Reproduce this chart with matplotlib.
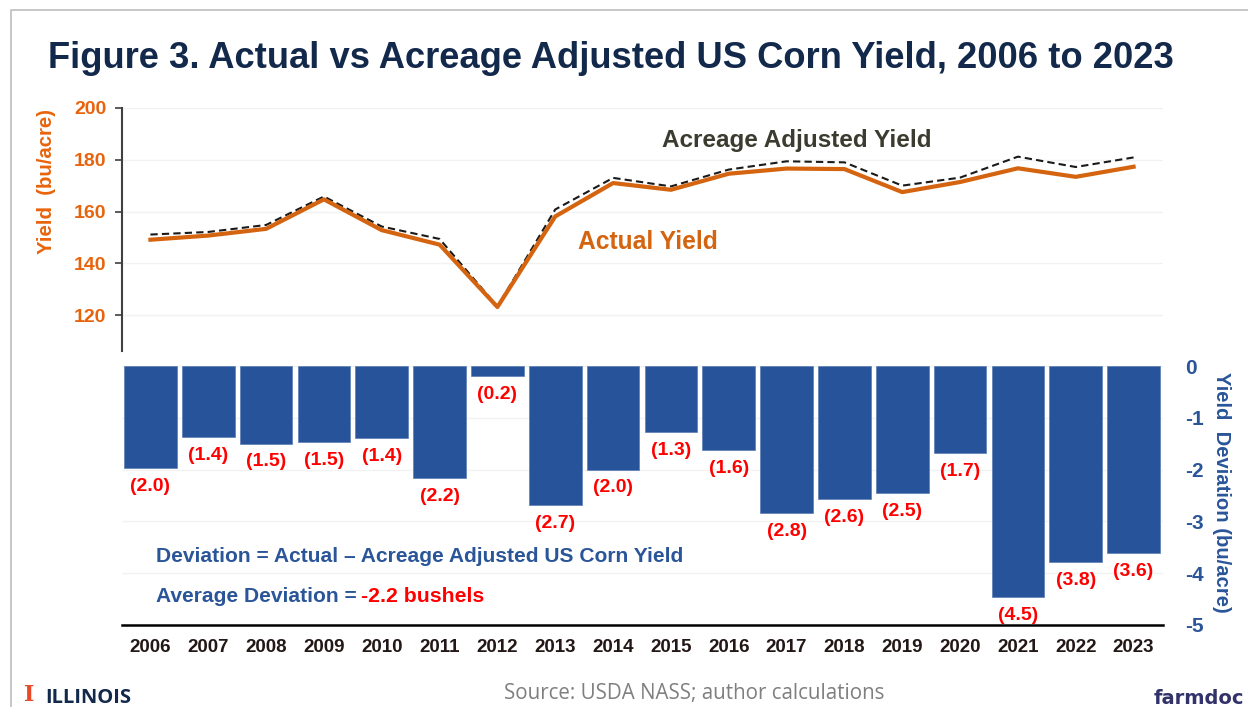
import numpy as np
import matplotlib
matplotlib.use('Agg')
import matplotlib.pyplot as plt
from matplotlib.lines import Line2D

plt.rcParams['font.family'] = ['Liberation Sans', 'DejaVu Sans']
plt.rcParams['axes.unicode_minus'] = False

years = ['2006', '2007', '2008', '2009', '2010', '2011', '2012', '2013', '2014',
         '2015', '2016', '2017', '2018', '2019', '2020', '2021', '2022', '2023']
actual = [149.1, 150.7, 153.3, 164.7, 152.8, 147.2, 123.1, 158.1, 171.0,
          168.4, 174.6, 176.6, 176.4, 167.5, 171.4, 176.7, 173.4, 177.3]
adjusted = [151.1, 152.1, 154.8, 165.8, 154.2, 149.4, 123.3, 160.8, 173.0,
            169.7, 176.2, 179.4, 179.0, 170.0, 173.1, 181.2, 177.2, 180.9]
deviation = [-1.97, -1.37, -1.50, -1.47, -1.39, -2.16, -0.19, -2.68, -2.00,
             -1.27, -1.62, -2.84, -2.57, -2.45, -1.68, -4.46, -3.78, -3.61]
dev_labels = ['(2.0)', '(1.4)', '(1.5)', '(1.5)', '(1.4)', '(2.2)', '(0.2)', '(2.7)', '(2.0)',
              '(1.3)', '(1.6)', '(2.8)', '(2.6)', '(2.5)', '(1.7)', '(4.5)', '(3.8)', '(3.6)']
yield_ticks = [120, 140, 160, 180, 200]
dev_ticks = [0, -1, -2, -3, -4, -5]

W, H = 1248, 707
ORANGE = '#E8640C'
LINE_ORANGE = '#D4640F'
BLUE = '#2A5599'
NAVY = '#13294B'
RED = '#FF0000'


def px(x, y):
    return x / W, 1 - y / H


def put(x, y, s, **kw):
    fx, fy = px(x, y)
    return fig.text(fx, fy, s, **kw)


fig = plt.figure(figsize=(W / 100, H / 100), dpi=100, facecolor='white')
x = np.arange(len(years))

# top panel, lines
ax = fig.add_axes([121.5 / W, 1 - 351 / H, 1041 / W, 243 / H])
ax.plot(x, adjusted, color='#1a1a1a', lw=1.5, dashes=(3.5, 2), zorder=2)
ax.plot(x, actual, color=LINE_ORANGE, lw=3, zorder=3, solid_joinstyle='round')
ax.set_xlim(-0.5, 17.5)
ax.set_ylim(106.1, 200)
ax.set_yticks(yield_ticks)
ax.set_xticks([])
ax.grid(axis='y', color='#f2f2f2', lw=1)
ax.set_axisbelow(True)
for s in ['top', 'right', 'bottom']:
    ax.spines[s].set_visible(False)
ax.spines['left'].set_color('#404040')
ax.spines['left'].set_linewidth(1.5)
ax.tick_params(axis='y', colors='#404040', length=5, width=1.2, pad=6, labelsize=14)
for t in ax.get_yticklabels():
    t.set_color(ORANGE)
    t.set_fontweight('bold')
ax.patch.set_alpha(0)

# bottom panel, bars
bx = fig.add_axes([121.5 / W, 1 - 625 / H, 1041 / W, 259 / H])
bx.bar(x, deviation, width=0.91, color='#27539A', edgecolor='#5B7DB5', linewidth=0.5, zorder=3)
bx.set_xlim(-0.5, 17.5)
bx.set_ylim(-5, 0)
bx.set_yticks(dev_ticks)
bx.set_xticks(x)
bx.set_xticklabels(years, fontsize=13.5, fontweight='bold', color='#231815')
bx.yaxis.tick_right()
bx.grid(axis='y', color='#f2f2f2', lw=1)
bx.set_axisbelow(True)
for s in ['top', 'left', 'right']:
    bx.spines[s].set_visible(False)
bx.spines['bottom'].set_color('black')
bx.spines['bottom'].set_linewidth(1.8)
bx.tick_params(axis='x', length=0, pad=10)
bx.tick_params(axis='y', length=0, pad=16, labelsize=15, labelcolor=BLUE)
for t in bx.get_yticklabels():
    t.set_fontweight('bold')
bx.patch.set_alpha(0)

for i, (d, lab) in enumerate(zip(deviation, dev_labels)):
    bx.annotate(lab, (i, d), xytext=(0, -7), textcoords='offset points', ha='center', va='top',
                color=RED, fontsize=14, fontweight='bold', zorder=4)

# frame on top and left only
fig.add_artist(Line2D([11 / W, 11 / W, 1], [0, 1 - 10 / H, 1 - 10 / H], color='#bdbdbd', lw=1.2))

put(48, 59, 'Figure 3. Actual vs Acreage Adjusted US Corn Yield, 2006 to 2023', fontsize=26.2,
    fontweight='bold', color=NAVY, ha='left', va='center')
put(46, 181, 'Yield  (bu/acre)', fontsize=14.7, fontweight='bold', color=ORANGE, rotation=90,
    ha='center', va='center')
put(1221, 492, 'Yield  Deviation (bu/acre)', fontsize=14.6, fontweight='bold', color=BLUE,
    rotation=270, ha='center', va='center')
put(662, 141, 'Acreage Adjusted Yield', fontsize=17.5, fontweight='bold', color='#3B3B30',
    ha='left', va='center')
put(578, 242, 'Actual Yield', fontsize=17.7, fontweight='bold', color=LINE_ORANGE,
    ha='left', va='center')
put(156, 557, 'Deviation = Actual – Acreage Adjusted US Corn Yield', fontsize=15.15, fontweight='bold',
    color=BLUE, ha='left', va='center')
put(156, 597, 'Average Deviation =', fontsize=15.1, fontweight='bold', color=BLUE,
    ha='left', va='center')
put(361, 597, '-2.2 bushels', fontsize=15.3, fontweight='bold', color=RED, ha='left', va='center')
put(694, 694, 'Source: USDA NASS; author calculations', fontsize=14.8, color='#7f7f7f',
    family='Open Sans', ha='center', va='center')

# logos as text
put(29, 695, 'I', fontsize=16, fontweight='bold', family='DejaVu Serif', color='#E84A27',
    ha='center', va='center')
put(45, 698, 'ILLINOIS', fontsize=14.5, fontweight='bold', family='Open Sans', color=NAVY,
    ha='left', va='center')
put(1154, 698, 'farmdoc', fontsize=14, fontweight='bold', family='DejaVu Sans', color='#33336B',
    ha='left', va='center')

fig.savefig('out.png', dpi=100)
